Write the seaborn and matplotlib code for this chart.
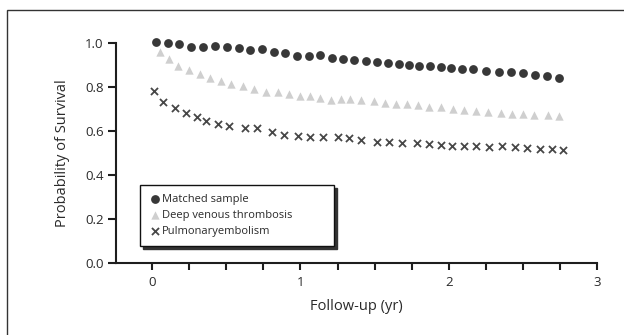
import matplotlib
matplotlib.use("Agg")
import matplotlib.pyplot as plt
import seaborn as sns
import pandas as pd
from matplotlib.patches import Rectangle

# ---- data ----
matched_x = [0.027, 0.107, 0.184, 0.262, 0.342, 0.422, 0.503, 0.583, 0.660, 0.741,
             0.821, 0.898, 0.979, 1.059, 1.131, 1.211, 1.286, 1.364, 1.439, 1.516,
             1.591, 1.663, 1.730, 1.802, 1.872, 1.944, 2.016, 2.086, 2.166, 2.251,
             2.337, 2.420, 2.500, 2.580, 2.660, 2.741]
matched_y = [1.005, 1.003, 0.995, 0.982, 0.983, 0.988, 0.983, 0.980, 0.970, 0.973,
             0.962, 0.955, 0.942, 0.942, 0.945, 0.933, 0.929, 0.924, 0.917, 0.914,
             0.909, 0.905, 0.902, 0.898, 0.897, 0.894, 0.886, 0.882, 0.883, 0.874,
             0.867, 0.867, 0.864, 0.855, 0.853, 0.842]

dvt_x = [0.053, 0.112, 0.174, 0.246, 0.321, 0.393, 0.465, 0.535, 0.610, 0.687,
         0.767, 0.848, 0.922, 0.995, 1.061, 1.134, 1.203, 1.270, 1.334, 1.409,
         1.495, 1.570, 1.642, 1.717, 1.789, 1.864, 1.944, 2.029, 2.104, 2.184,
         2.265, 2.350, 2.425, 2.500, 2.572, 2.666, 2.741]
dvt_y = [0.958, 0.927, 0.898, 0.879, 0.861, 0.841, 0.829, 0.815, 0.806, 0.791,
         0.779, 0.779, 0.768, 0.758, 0.758, 0.750, 0.744, 0.745, 0.745, 0.744,
         0.738, 0.730, 0.726, 0.724, 0.718, 0.709, 0.708, 0.700, 0.697, 0.692,
         0.689, 0.682, 0.679, 0.677, 0.676, 0.673, 0.671]

pe_x = [0.013, 0.072, 0.152, 0.227, 0.305, 0.366, 0.447, 0.519, 0.626, 0.706,
        0.807, 0.888, 0.981, 1.067, 1.155, 1.254, 1.329, 1.409, 1.516, 1.596,
        1.684, 1.783, 1.864, 1.944, 2.024, 2.104, 2.184, 2.270, 2.358, 2.444,
        2.524, 2.612, 2.698, 2.773]
pe_y = [0.782, 0.732, 0.705, 0.682, 0.664, 0.648, 0.633, 0.624, 0.614, 0.614,
        0.597, 0.582, 0.577, 0.576, 0.576, 0.576, 0.568, 0.561, 0.552, 0.552,
        0.547, 0.547, 0.541, 0.536, 0.535, 0.535, 0.532, 0.530, 0.535, 0.530,
        0.526, 0.520, 0.518, 0.517]

series_names = ["Matched sample", "Deep venous thrombosis", "Pulmonaryembolism"]
y_ticks = [0.0, 0.2, 0.4, 0.6, 0.8, 1.0]
y_tick_labels = ["0.0", "0.2", "0.4", "0.6", "0.8", "1.0"]
x_label = "Follow-up (yr)"
y_label = "Probability of Survival"

# ---- plot ----
sns.set_style("ticks")
plt.rcParams["font.family"] = ["Open Sans", "DejaVu Sans"]

fig = plt.figure(figsize=(6.24, 3.35), dpi=100)
ax = fig.add_axes([0.186, 0.214, 0.771, 0.657])

df_m = pd.DataFrame({"x": matched_x, "y": matched_y})
df_d = pd.DataFrame({"x": dvt_x, "y": dvt_y})
df_p = pd.DataFrame({"x": pe_x, "y": pe_y})

sns.scatterplot(data=df_m, x="x", y="y", ax=ax, marker="o", s=40, color="#383838",
                edgecolor="#383838", linewidth=0, label=series_names[0], clip_on=False, zorder=3)
sns.scatterplot(data=df_d, x="x", y="y", ax=ax, marker="^", s=36, color="#cfcfcf",
                edgecolor="#cfcfcf", linewidth=0, label=series_names[1], clip_on=False, zorder=3)
sns.scatterplot(data=df_p, x="x", y="y", ax=ax, marker="x", s=26, color="#474747",
                linewidth=1.3, label=series_names[2], clip_on=False, zorder=3)

ax.set_xlim(-0.243, 3.0)
ax.set_ylim(0.0, 1.0)
ax.set_yticks(y_ticks)
ax.set_yticklabels(y_tick_labels)
minor = [i * 0.25 for i in range(13)]
ax.set_xticks(minor)
ax.set_xticklabels([str(int(t)) if float(t).is_integer() else "" for t in minor])

for sp in ["top", "right"]:
    ax.spines[sp].set_visible(False)
for sp in ["left", "bottom"]:
    ax.spines[sp].set_linewidth(1.5)
    ax.spines[sp].set_color("#1e1e1e")

ax.tick_params(axis="both", direction="out", width=1.5, color="#1e1e1e",
               labelsize=9.5, labelcolor="#2a2a2a")
ax.tick_params(axis="y", length=6, pad=3)
ax.tick_params(axis="x", length=5, pad=4)

ax.set_xlabel(x_label, fontsize=10.5, color="#2a2a2a", labelpad=7)
ax.set_ylabel(y_label, fontsize=10.5, color="#2a2a2a", labelpad=11)

leg = ax.legend(loc="lower left", bbox_to_anchor=(0.05, 0.079, 0.403, 0.29),
                mode="expand", frameon=True, fancybox=False,
                shadow={"color": "#333333", "alpha": 1.0},
                fontsize=8, handletextpad=0.2, handlelength=1.0,
                labelspacing=0.45, borderpad=0.8, borderaxespad=0)
leg.get_frame().set_edgecolor("#111111")
leg.get_frame().set_linewidth(1.0)
for t in leg.get_texts():
    t.set_color("#2a2a2a")

# outer frame of the figure
fig.patches.append(Rectangle((7 / 624, -0.05), 1.1, 1 - 9.5 / 335 + 0.05,
                             transform=fig.transFigure, fill=False,
                             edgecolor="#333333", linewidth=1.0))

fig.savefig("out.png", dpi=100)
